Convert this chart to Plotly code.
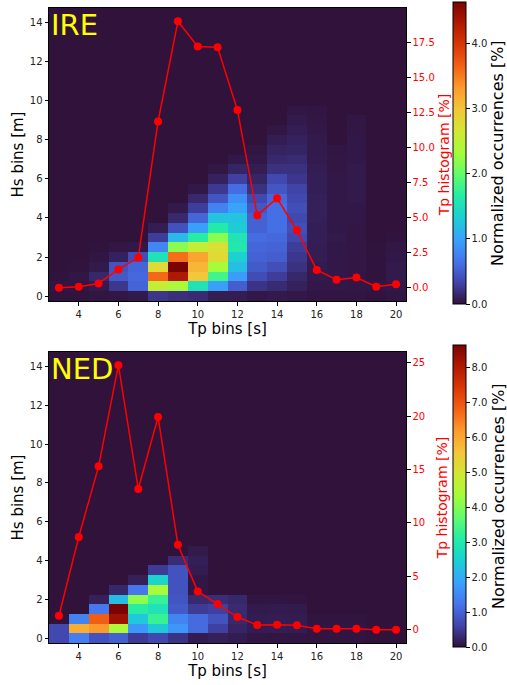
import plotly.graph_objects as go

# ---------------- data ----------------
tp_bins = [3, 4, 5, 6, 7, 8, 9, 10, 11, 12, 13, 14, 15, 16, 17, 18, 19, 20]
hs_bins = [0.0, 0.5, 1.0, 1.5, 2.0, 2.5, 3.0, 3.5, 4.0, 4.5, 5.0, 5.5, 6.0, 6.5, 7.0,
           7.5, 8.0, 8.5, 9.0, 9.5, 10.0, 10.5, 11.0, 11.5, 12.0, 12.5, 13.0, 13.5, 14.0, 14.5]
x_ticks = [4, 6, 8, 10, 12, 14, 16, 18, 20]
hs_ticks = [0, 2, 4, 6, 8, 10, 12, 14]

ire_tp_hist = [0.0, 0.07, 0.3, 1.3, 2.15, 11.86, 19.0, 17.2, 17.15, 12.67, 5.16, 6.38,
               4.09, 1.27, 0.57, 0.72, 0.07, 0.24]
ned_tp_hist = [1.31, 8.68, 15.29, 24.75, 13.17, 19.91, 7.96, 3.59, 2.4, 1.19, 0.44, 0.47,
               0.42, 0.1, 0.1, 0.1, 0.0, 0.0]

# normalized occurrences [%]; one list per Tp bin, listed upward from Hs = 0
ire_occ = [
    [0.01, 0.02, 0.01],
    [0.01, 0.02, 0.03, 0.01],
    [0.02, 0.06, 0.14, 0.05, 0.02, 0.01],
    [0.03, 0.24, 0.47, 0.43, 0.10, 0.03],
    [0.05, 0.55, 0.58, 0.55, 0.38, 0.04],
    [0.23, 2.55, 3.61, 2.78, 1.53, 0.79, 0.28, 0.07],
    [0.19, 2.36, 4.31, 4.63, 3.57, 2.18, 1.16, 0.42, 0.15, 0.05],
    [0.17, 1.53, 2.96, 3.10, 3.24, 2.55, 1.67, 0.97, 0.56, 0.28, 0.15, 0.04],
    [0.07, 0.97, 1.81, 2.32, 2.78, 2.72, 2.18, 1.62, 1.25, 0.76, 0.44, 0.25, 0.10, 0.03],
    [0.07, 0.50, 0.95, 1.20, 1.35, 1.60, 1.55, 1.30, 1.25, 1.00, 0.85, 0.60, 0.30, 0.12, 0.04],
    [0.04, 0.22, 0.38, 0.48, 0.53, 0.56, 0.60, 0.53, 0.53, 0.45, 0.36, 0.20, 0.12, 0.07, 0.04, 0.02],
    [0.05, 0.16, 0.28, 0.40, 0.50, 0.54, 0.58, 0.62, 0.62, 0.62, 0.58, 0.45, 0.36, 0.20, 0.15,
     0.11, 0.07, 0.03],
    [0.04, 0.10, 0.14, 0.20, 0.24, 0.28, 0.36, 0.40, 0.36, 0.40, 0.36, 0.32, 0.24, 0.20, 0.16,
     0.12, 0.10, 0.07, 0.05, 0.03],
    [0.02, 0.04, 0.05, 0.06, 0.07, 0.07, 0.08, 0.08, 0.09, 0.09, 0.09, 0.08, 0.08, 0.07, 0.06,
     0.05, 0.05, 0.04, 0.03, 0.02],
    [0.02, 0.04, 0.04, 0.04, 0.04, 0.04, 0.05, 0.04, 0.04, 0.04, 0.04, 0.04, 0.04, 0.03, 0.03, 0.02],
    [0.02, 0.03, 0.03, 0.03, 0.03, 0.03, 0.03, 0.03, 0.04, 0.04, 0.05, 0.05, 0.05, 0.05, 0.04,
     0.04, 0.04, 0.03, 0.03],
    [0.01, 0.02, 0.01, 0.01, 0.01, 0.01],
    [0.02, 0.04, 0.05, 0.05, 0.04, 0.03, 0.01],
]

ned_occ = [
    [0.65, 0.66],
    [1.35, 5.90, 1.43],
    [0.80, 6.20, 6.85, 1.27, 0.17],
    [0.95, 4.45, 8.25, 8.63, 2.20, 0.27],
    [0.50, 1.70, 2.35, 3.10, 4.10, 1.25, 0.17],
    [0.65, 2.40, 3.28, 2.85, 3.26, 4.40, 2.57, 0.50],
    [0.40, 1.68, 1.45, 0.90, 0.82, 0.80, 0.80, 0.80, 0.31],
    [0.12, 1.10, 1.10, 0.50, 0.28, 0.06, 0.06, 0.12, 0.15, 0.10],
    [0.17, 0.55, 0.80, 0.55, 0.33],
    [0.12, 0.22, 0.28, 0.30, 0.27],
    [0.06, 0.12, 0.12, 0.10, 0.04],
    [0.05, 0.13, 0.13, 0.11, 0.05],
    [0.05, 0.12, 0.12, 0.10, 0.03],
    [0.03, 0.04, 0.03],
    [0.03, 0.04, 0.03],
    [0.03, 0.04, 0.03],
    [0.0],
    [0.0],
]

panels = [("IRE", ire_occ, ire_tp_hist, 2.5, ".1f", 5),
          ("NED", ned_occ, ned_tp_hist, 5, "d", 12)]


def to_grid(cols):
    grid = [[0.0 for _ in tp_bins] for _ in hs_bins]
    for j, col in enumerate(cols):
        for i, v in enumerate(col):
            grid[i][j] = v
    return grid


# ---------------- layout geometry (pixels) ----------------
W, H = 507, 685
PX_L, PX_R = 49, 406
rows_px = [(8, 301), (352, 643)]
cbar_px = [(2, 304), (345, 647)]
FONT = "DejaVu Sans"
TXT = "#222222"

fig = go.Figure()
layout = dict(
    width=W, height=H,
    margin=dict(l=0, r=0, t=0, b=0, autoexpand=False),
    paper_bgcolor="white", plot_bgcolor="#30123b",
    font=dict(family=FONT, size=10, color=TXT),
    showlegend=False,
    annotations=[],
)

for k, (name, occ, hist, dt, fmt, r_standoff) in enumerate(panels):
    xa = "x" if k == 0 else "x2"
    ya = "y" if k == 0 else "y3"
    ya2 = "y2" if k == 0 else "y4"
    top, bot = rows_px[k]
    cb_top, cb_bot = cbar_px[k]
    cb_mid = 1 - (cb_top + cb_bot) / 2 / H

    fig.add_trace(go.Heatmap(
        x=tp_bins, y=hs_bins, z=to_grid(occ),
        colorscale="Turbo", zmin=0,
        xaxis=xa, yaxis=ya,
        colorbar=dict(
            x=453 / W, xanchor="left", y=cb_mid, yanchor="middle",
            len=cb_bot - cb_top, lenmode="pixels", thickness=13, thicknessmode="pixels",
            xpad=0, ypad=0, outlinewidth=1, outlinecolor="black",
            tickformat=".1f", dtick=1, tick0=0, ticks="outside", ticklen=3.5,
            tickcolor="black", tickfont=dict(size=10, color=TXT, family=FONT),
        ),
        hoverinfo="skip",
    ))
    fig.add_trace(go.Scatter(
        x=tp_bins, y=hist, mode="lines+markers",
        line=dict(color="red", width=1.5),
        marker=dict(color="red", size=8),
        xaxis=xa, yaxis=ya2, hoverinfo="skip",
    ))

    lo, hi = min(hist), max(hist)
    pad = 0.05 * (hi - lo)
    dom_y = [1 - bot / H, 1 - top / H]
    xkey = "xaxis" if k == 0 else "xaxis2"
    ykey = "yaxis" if k == 0 else "yaxis3"
    y2key = "yaxis2" if k == 0 else "yaxis4"

    layout[xkey] = dict(
        domain=[PX_L / W, PX_R / W], anchor=ya, range=[2.5, 20.5],
        tickvals=x_ticks, ticks="outside", ticklen=3.5, tickcolor="black",
        showline=True, linecolor="black", linewidth=1, mirror=True,
        showgrid=False, zeroline=False, automargin=False,
        tickfont=dict(size=10, color=TXT),
        title=dict(text="Tp bins [s]", font=dict(size=15, color="black"), standoff=2),
    )
    layout[ykey] = dict(
        domain=dom_y, anchor=xa, range=[-0.25, 14.75],
        tickvals=hs_ticks, ticks="outside", ticklen=3.5, tickcolor="black",
        showline=True, linecolor="black", linewidth=1,
        showgrid=False, zeroline=False, automargin=False,
        tickfont=dict(size=10, color=TXT),
        title=dict(text="Hs bins [m]", font=dict(size=15, color="black"), standoff=2),
    )
    layout[y2key] = dict(
        overlaying=ya, side="right", anchor=xa, range=[lo - pad, hi + pad],
        dtick=dt, tick0=0, tickformat=fmt, ticks="outside", ticklen=3.5, tickcolor="black",
        showline=True, linecolor="black", linewidth=1,
        showgrid=False, zeroline=False, automargin=False,
        tickfont=dict(size=10, color="red"),
        title=dict(text="Tp histogram [%]", font=dict(size=14, color="red"),
                   standoff=r_standoff),
    )
    layout["annotations"].append(dict(
        text=name, xref=f"{xa} domain", yref=f"{ya} domain", x=0, y=1,
        xanchor="left", yanchor="top", showarrow=False, xshift=0, yshift=2,
        font=dict(size=29, color="yellow", family=FONT),
    ))
    layout["annotations"].append(dict(
        text="Normalized occurrences [%]", xref="paper", yref="paper",
        x=498 / W, y=cb_mid, xanchor="center", yanchor="middle", textangle=-90,
        showarrow=False, font=dict(size=16, color="black", family=FONT),
    ))

fig.update_layout(**layout)
fig.write_html("out.html", config={"displayModeBar": False},
               post_script="document.body.style.margin='0px';")
